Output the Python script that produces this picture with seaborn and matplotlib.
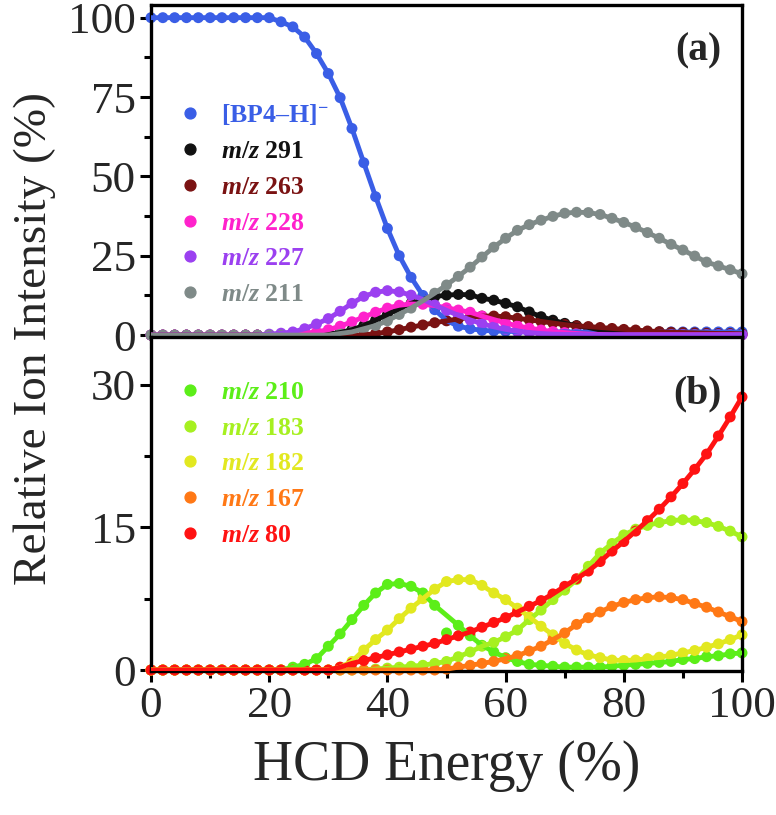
import matplotlib
matplotlib.use('Agg')
import matplotlib.pyplot as plt
import seaborn as sns
import pandas as pd
from matplotlib.lines import Line2D
from matplotlib.ticker import MultipleLocator

# energia HCD (%) - um ponto a cada 2%
energia = list(range(0, 101, 2))

# painel (a)  (linhas de 10 pontos: 0-18, 20-38, 40-58, 60-78, 80-98, 100)
bp4 = [100, 100, 100, 100, 100, 100, 100, 100, 100, 100,
       100, 98.7, 97.1, 93.9, 88.7, 82.4, 74.8, 65.1, 54.3, 43.6,
       33.6, 25.0, 18.2, 12.5, 8.0, 4.6, 2.8, 2.0, 1.5, 1.3,
       1.2, 1.1, 1.0, 1.0, 1.0, 1.0, 1.0, 1.0, 1.0, 1.0,
       1.0, 1.0, 1.0, 1.0, 1.0, 1.0, 1.0, 1.0, 1.0, 1.0,
       1.0]
mz291 = [0, 0, 0, 0, 0, 0, 0, 0, 0, 0,
         0, 0, 0, 0, 0, 0.3, 0.8, 1.7, 3.0, 4.7,
         6.5, 8.3, 10.0, 11.2, 12.1, 12.6, 12.8, 12.7, 11.6, 11.0,
         10.0, 8.9, 7.3, 5.8, 4.7, 3.7, 3.0, 2.4, 1.6, 1.0,
         0.6, 0.4, 0.3, 0.2, 0.2, 0.1, 0.1, 0.1, 0.1, 0.1,
         0.1]
mz263 = [0, 0, 0, 0, 0, 0, 0, 0, 0, 0,
         0, 0, 0, 0, 0, 0, 0, 0, 0, 0.5,
         1.0, 1.7, 2.5, 3.2, 3.9, 4.5, 5.1, 5.6, 6.0, 6.0,
         5.8, 5.3, 4.8, 4.3, 3.8, 3.3, 2.9, 2.7, 2.4, 2.1,
         1.8, 1.6, 1.3, 1.1, 0.9, 0.8, 0.7, 0.6, 0.5, 0.5,
         0.4]
mz228 = [0, 0, 0, 0, 0, 0, 0, 0, 0, 0,
         0, 0, 0.3, 0.6, 1.0, 1.7, 2.8, 4.2, 5.7, 7.2,
         8.5, 9.4, 9.8, 9.7, 9.3, 8.6, 7.9, 7.2, 6.0, 4.9,
         3.8, 2.9, 2.2, 1.6, 1.1, 0.8, 0.5, 0.3, 0.2, 0.1,
         0.1, 0.1, 0.1, 0.1, 0.1, 0.1, 0.1, 0.1, 0.1, 0.1,
         0.1]
mz227 = [0, 0, 0, 0, 0, 0, 0, 0, 0, 0,
         0.3, 0.6, 1.0, 2.0, 3.5, 5.2, 7.5, 10.0, 12.2, 13.5,
         14.0, 13.6, 12.6, 11.2, 9.5, 7.8, 6.2, 4.8, 3.6, 2.6,
         1.8, 1.2, 0.8, 0.5, 0.3, 0.2, 0.2, 0.1, 0.1, 0.1,
         0.1, 0.1, 0.1, 0.1, 0.1, 0.1, 0.1, 0.1, 0.1, 0.1,
         0.1]
mz211 = [0, 0, 0, 0, 0, 0, 0, 0, 0, 0,
         0, 0, 0, 0, 0, 0, 0.5, 1.0, 2.0, 3.0,
         4.5, 6.5, 8.5, 10.8, 13.2, 15.8, 18.5, 21.4, 24.6, 27.7,
         30.5, 33.0, 34.8, 36.2, 37.4, 38.4, 38.7, 38.6, 38.0, 36.8,
         35.5, 34.0, 32.3, 30.5, 28.6, 26.8, 24.9, 23.0, 21.8, 20.6,
         19.3]

# painel (b)
mz210 = [0, 0, 0, 0, 0, 0, 0, 0, 0, 0,
         0, 0, 0.3, 0.6, 1.2, 2.5, 3.8, 5.3, 6.8, 8.1,
         9.0, 9.1, 8.8, 8.1, 6.8, 3.9, 4.7, 3.6, 2.6, 1.9,
         1.3, 0.9, 0.6, 0.5, 0.4, 0.3, 0.3, 0.3, 0.3, 0.4,
         0.5, 0.6, 0.7, 0.8, 0.9, 1.1, 1.2, 1.4, 1.5, 1.7,
         1.8]
mz183 = [0, 0, 0, 0, 0, 0, 0, 0, 0, 0,
         0, 0, 0, 0, 0, 0, 0, 0, 0, 0.1,
         0.2, 0.3, 0.4, 0.5, 0.7, 0.9, 1.4, 1.9, 2.5, 2.9,
         3.5, 4.2, 5.3, 6.3, 7.4, 8.4, 9.5, 10.9, 12.3, 13.3,
         14.2, 14.8, 15.2, 15.5, 15.7, 15.8, 15.7, 15.5, 15.1, 14.6,
         14.0]
mz182 = [0, 0, 0, 0, 0, 0, 0, 0, 0, 0,
         0, 0, 0, 0, 0, 0, 0.3, 0.9, 2.1, 3.2,
         4.2, 5.4, 6.5, 7.5, 8.5, 9.3, 9.5, 9.5, 8.9, 8.1,
         7.4, 6.5, 5.6, 4.6, 3.7, 2.8, 2.1, 1.6, 1.3, 1.05,
         1.0, 1.05, 1.2, 1.35, 1.55, 1.8, 2.05, 2.4, 2.75, 3.2,
         3.7]
mz167 = [0, 0, 0, 0, 0, 0, 0, 0, 0, 0,
         0, 0, 0, 0, 0, 0, 0, 0, 0, 0,
         0, 0, 0, 0, 0, 0.1, 0.3, 0.5, 0.7, 0.9,
         1.2, 1.5, 2.0, 2.5, 3.2, 3.9, 4.8, 5.5, 6.1, 6.7,
         7.1, 7.4, 7.6, 7.7, 7.6, 7.4, 7.0, 6.6, 6.1, 5.6,
         5.1]
mz80 = [0, 0, 0, 0, 0, 0, 0, 0, 0, 0,
        0, 0, 0, 0, 0, 0, 0.3, 0.7, 1.0, 1.3,
        1.6, 1.9, 2.2, 2.5, 2.8, 3.2, 3.6, 4.0, 4.5, 5.0,
        5.5, 6.1, 6.7, 7.3, 8.0, 8.8, 9.6, 10.4, 11.4, 12.5,
        13.5, 14.6, 15.7, 16.9, 18.2, 19.6, 21.1, 22.7, 24.6, 26.6,
        28.7]

ions_a = ['[BP4–H]$^{\\mathbf{-}}$', '$\\mathit{m/z}$ 291', '$\\mathit{m/z}$ 263',
          '$\\mathit{m/z}$ 228', '$\\mathit{m/z}$ 227', '$\\mathit{m/z}$ 211']
valores_a = [bp4, mz291, mz263, mz228, mz227, mz211]
cores_a = ['#3A5EE6', '#111111', '#7A1212', '#FF22CC', '#9B40F0', '#7F8A88']

ions_b = ['$\\mathit{m/z}$ 210', '$\\mathit{m/z}$ 183', '$\\mathit{m/z}$ 182',
          '$\\mathit{m/z}$ 167', '$\\mathit{m/z}$ 80']
valores_b = [mz210, mz183, mz182, mz167, mz80]
cores_b = ['#5CEE18', '#A6F020', '#E2E820', '#FF7815', '#FF1212']

# ponto fora da curva ajustada (o ajuste passa por cima dele)
fora_do_ajuste = [('$\\mathit{m/z}$ 210', 50)]

sns.set_style('ticks')
plt.rcParams['font.family'] = ['Liberation Serif', 'DejaVu Serif']
plt.rcParams['mathtext.fontset'] = 'custom'
plt.rcParams['mathtext.rm'] = 'Liberation Serif:bold'
plt.rcParams['mathtext.bf'] = 'Liberation Serif:bold'
plt.rcParams['mathtext.it'] = 'Liberation Serif:italic:bold'


def tabela(ions, valores):
    partes = []
    for ion, v in zip(ions, valores):
        partes.append(pd.DataFrame({'energia': energia, 'intensidade': v, 'ion': ion}))
    return pd.concat(partes, ignore_index=True)


fig = plt.figure(figsize=(7.76, 8.15), dpi=100)
ax1 = fig.add_axes([0.1946, 0.5865, 0.7616, 0.4074])
ax2 = fig.add_axes([0.1946, 0.1767, 0.7616, 0.4098])

paineis = [(ax1, ions_a, valores_a, cores_a, 0.40),
           (ax2, ions_b, valores_b, cores_b, 0.62)]
for ax, ions, valores, cores, ymeio in paineis:
    df = tabela(ions, valores)
    pal = dict(zip(ions, cores))
    manter = pd.Series(True, index=df.index)
    for ion, e in fora_do_ajuste:
        manter &= ~((df['ion'] == ion) & (df['energia'] == e))
    sns.scatterplot(data=df, x='energia', y='intensidade', hue='ion', palette=pal,
                    s=62, edgecolor='none', legend=False, ax=ax, zorder=2, clip_on=False)
    sns.lineplot(data=df[manter], x='energia', y='intensidade', hue='ion', palette=pal,
                 lw=3.5, legend=False, ax=ax, zorder=3)
    handles = [Line2D([], [], ls='none', marker='o', ms=7.8, color=c) for c in cores]
    ax.legend(handles, ions, loc='center left', bbox_to_anchor=(0.022, ymeio),
              frameon=False, prop={'weight': 'bold', 'size': 18.5},
              labelcolor=cores, handletextpad=0.62, labelspacing=0.5,
              handlelength=1.2, borderaxespad=0)
    ax.set_xlim(0, 100)
    ax.xaxis.set_major_locator(MultipleLocator(20))
    ax.xaxis.set_minor_locator(MultipleLocator(10))
    for s in ax.spines.values():
        s.set_linewidth(2.4)
        s.set_color('black')
    ax.tick_params(which='major', length=8, width=2.2, direction='out',
                   labelsize=32.5, pad=3, color='black')
    ax.tick_params(which='minor', length=5, width=2.2, direction='out', color='black')
    ax.set_xlabel('')
    ax.set_ylabel('')

ax1.set_ylim(-0.6, 104)
ax1.yaxis.set_major_locator(MultipleLocator(25))
ax1.yaxis.set_minor_locator(MultipleLocator(12.5))
ax1.tick_params(axis='x', labelbottom=False)

ax2.set_ylim(-0.1, 35)
ax2.yaxis.set_major_locator(MultipleLocator(15))
ax2.yaxis.set_minor_locator(MultipleLocator(7.5))

ax1.text(0.965, 0.862, '(a)', transform=ax1.transAxes, ha='right', va='center',
         fontsize=28.5, fontweight='bold')
ax2.text(0.965, 0.83, '(b)', transform=ax2.transAxes, ha='right', va='center',
         fontsize=28.5, fontweight='bold')

ax2.set_xlabel('HCD Energy (%)', fontsize=40, labelpad=10)
fig.text(0.045, 0.585, 'Relative Ion Intensity (%)', rotation=90, fontsize=34,
         ha='center', va='center')

fig.savefig('out.png', dpi=100, facecolor='white')
